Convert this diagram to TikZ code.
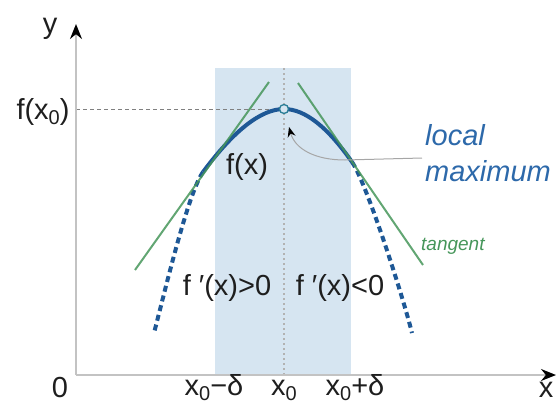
\documentclass[tikz,border=0pt]{standalone}
\usepackage{fontspec}
\setmainfont{Liberation Sans}
\usetikzlibrary{arrows.meta}
\definecolor{band}{RGB}{214,229,241}
\definecolor{curveblue}{RGB}{30,88,150}
\definecolor{tgreen}{RGB}{70,150,90}
\definecolor{axisgray}{RGB}{195,195,195}
\definecolor{lmblue}{RGB}{45,105,170}
\definecolor{peakedge}{RGB}{40,125,150}
\definecolor{txt}{RGB}{30,30,30}
\newcommand\mysub[1]{\raisebox{-0.18em}{\fontsize{20}{20}\selectfont #1}}
\begin{document}
\begin{tikzpicture}[x=1pt,y=-1pt,
  lab/.style={font=\fontsize{29}{34}\selectfont, text=txt, inner sep=0pt, anchor=base},
  axisline/.style={draw=axisgray, line width=2pt},
  tanline/.style={draw=tgreen, line width=2pt, opacity=0.85},
  fsolid/.style={draw=curveblue, line width=4pt},
  fdash/.style={draw=curveblue, line width=4pt, dash pattern=on 6pt off 4pt},
  guide/.style={draw=gray!70, line width=1pt}]
\useasboundingbox (0,0) rectangle (557,405);
% band
\fill[band] (215,68) rectangle (351,375);
% coordinates
\coordinate (O) at (76,375);
\coordinate (xe) at (556,375);
\coordinate (ye) at (76,24);
\coordinate (x0top) at (284,68);
\coordinate (x0bot) at (284,375);
\coordinate (fy) at (76,109);
\coordinate (pk) at (284,109);
\coordinate (L) at (203,172);
\coordinate (R) at (352,162);
\coordinate (EL) at (154,333);
\coordinate (ER) at (412,333);
\coordinate (tl1) at (135,270);
\coordinate (tl2) at (269,82);
\coordinate (tr1) at (298,83);
\coordinate (tr2) at (423,265);
\coordinate (lmstart) at (422,158);
\coordinate (bend) at (345,160);
\coordinate (tip) at (289,127);
% guides
\draw[draw=gray!60, line width=1.5pt, dash pattern=on 2pt off 3pt] (x0top) -- (x0bot);
\draw[draw=gray, line width=0.8pt, dash pattern=on 4pt off 3pt] (fy) -- (pk);
% axes
\draw[axisline, -{Stealth[black,length=15pt,width=12pt]}] (O) -- (xe);
\draw[axisline, -{Stealth[black,length=15pt,width=12pt]}] (O) -- (ye);
% curve
\draw[fdash] (L) .. controls (188,193) and (165,291) .. (EL);
\draw[fdash] (R) .. controls (366,182) and (402,293) .. (ER);
\draw[fsolid] (L) .. controls (234.3,130) and (261.3,109) .. (pk)
  .. controls (304.7,109) and (327.3,126.7) .. (R);
% tangents
\draw[tanline] (tl1) -- (tl2);
\draw[tanline] (tr1) -- (tr2);
% peak
\node[circle, draw=peakedge, fill=band, line width=1.3pt, minimum size=9pt, inner sep=0pt] (peak) at (pk) {};
% annotation
\draw[guide, -{Stealth[black,length=10pt,width=8pt]}] (lmstart) -- (bend) .. controls +(-30,0) and +(6,22) .. (tip);
% labels
\node[lab] (ylab) at (50,33) {y};
\node[lab] (fx0) at (43,119) {f(x\mysub{0})};
\node[lab] (fx) at (247,174) {f(x)};
\node[lab] (dpos) at (227,295) {f ′(x)>0};
\node[lab] (dneg) at (340,295) {f ′(x)<0};
\node[lab] (zero) at (60,397) {0};
\node[lab] (xm) at (214,395) {x\mysub{0}−δ};
\node[lab] (xz) at (284,395) {x\mysub{0}};
\node[lab] (xp) at (355,395) {x\mysub{0}+δ};
\node[lab] (xlab) at (546,397) {x};
\node[lab, anchor=base west, text=lmblue, font=\itshape\fontsize{29}{34}\selectfont] (lm1) at (425,145) {local};
\node[lab, anchor=base west, text=lmblue, font=\itshape\fontsize{29}{34}\selectfont] (lm2) at (425,181) {maximum};
\node[lab, anchor=base west, text=tgreen, font=\itshape\fontsize{19}{22}\selectfont] (tang) at (421,250) {tangent};
\end{tikzpicture}
\end{document}
